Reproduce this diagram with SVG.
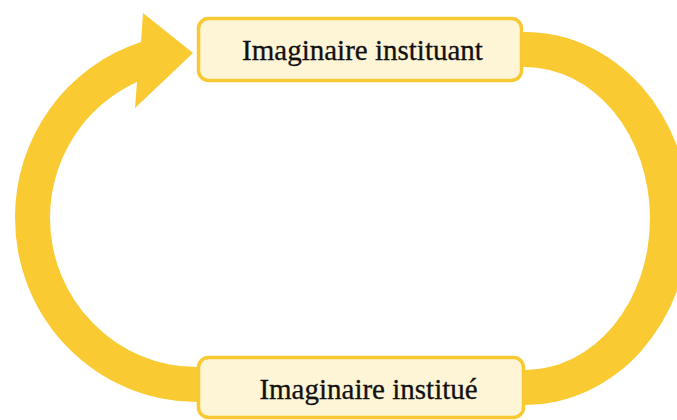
<svg xmlns="http://www.w3.org/2000/svg" width="677" height="420" viewBox="0 0 677 420">
<style>
.band{fill:#F9CA32;stroke:none}
.box{fill:#FEF4D6;stroke:#F9C934;stroke-width:3.5}
.lbl{font-family:"Liberation Serif","Times New Roman",serif;font-size:29px;fill:#111111;stroke:#111111;stroke-width:0.3;text-anchor:middle}
</style>
<rect width="677" height="420" fill="#ffffff"/>
<g id="connectors">
<path id="arc-left" class="band" d="M 210 402 L 197 402 A 182 184 0 0 1 15 218 A 182 184 0 0 1 141 42 L 143 13 L 193 53 L 135 108 L 137 82 A 147 149 0 0 0 50 218 A 147 149 0 0 0 197 367 L 210 367 Z"/>
<path id="arc-right" class="band" d="M 512 32 L 525 32 A 165 186.5 0 0 1 690 218.5 A 165 186.5 0 0 1 525 405 L 512 405 L 512 370 L 525 370 A 125 151.5 0 0 0 650 218.5 A 125 151.5 0 0 0 525 67 L 512 67 Z"/>
</g>
<g id="node-instituant">
<rect class="box" x="198.5" y="18.5" width="323" height="62" rx="10" ry="10"/>
<text class="lbl" x="362.5" y="60">Imaginaire instituant</text>
</g>
<g id="node-institue">
<rect class="box" x="198.5" y="357.5" width="325" height="60" rx="10" ry="10"/>
<text class="lbl" x="368.5" y="399">Imaginaire institué</text>
</g>
</svg>
